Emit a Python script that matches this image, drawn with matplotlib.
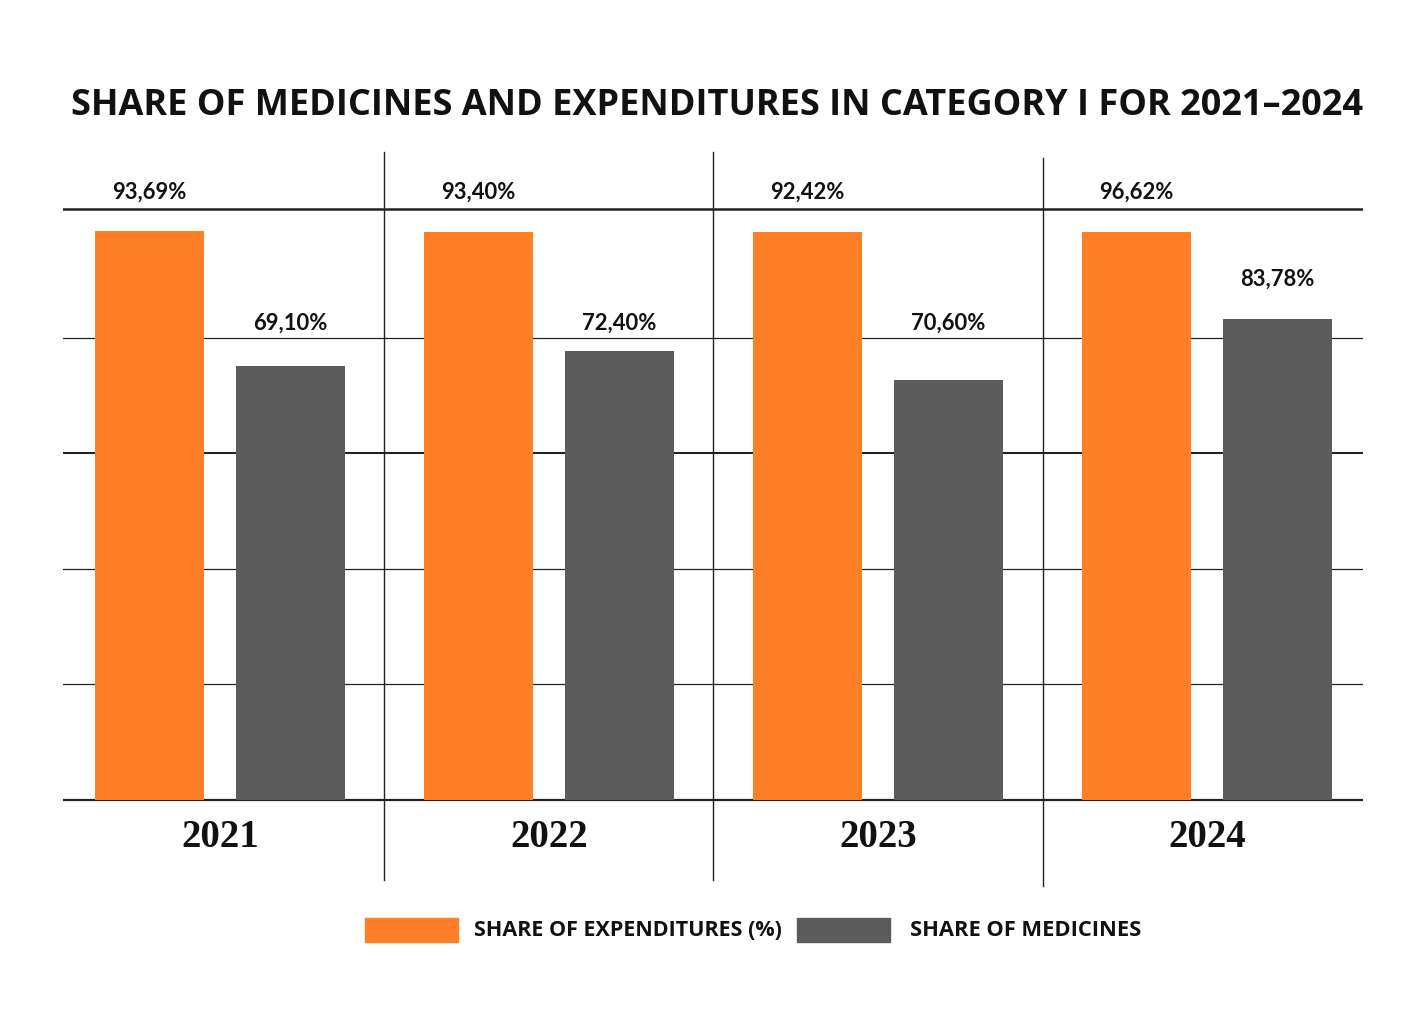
import matplotlib
matplotlib.use("Agg")
import matplotlib.pyplot as plt
from matplotlib.patches import Rectangle

# ---- data ----
years = ["2021", "2022", "2023", "2024"]
expend_labels = [93.69, 93.40, 92.42, 96.62]      # printed labels
medic_labels = [69.10, 72.40, 70.60, 83.78]       # printed labels
expend_heights = [98.5, 98.4, 98.4, 98.35]        # bar heights as drawn
medic_heights = [75.15, 77.75, 72.7, 83.3]        # bar heights as drawn
expend_label_y = [105.3, 105.3, 105.3, 105.3]
medic_label_y = [82.6, 82.6, 82.6, 90.2]
grid_values = [0, 20, 40, 60, 80, 102.3]
grid_widths = [1.6, 0.9, 0.9, 1.5, 0.9, 1.8]
series_names = ["SHARE OF EXPENDITURES (%)", "SHARE OF MEDICINES"]
title = "SHARE OF MEDICINES AND EXPENDITURES IN CATEGORY I FOR 2021–2024"

ORANGE = "#FF7F27"
GRAY = "#5C5C5C"
LINE = "#222222"

W, H = 1427, 1009
fig = plt.figure(figsize=(W / 100, H / 100), dpi=100)
fig.patch.set_facecolor("white")

ax = fig.add_axes([63 / W, (H - 886) / H, 1300 / W, 734 / H])
ax.set_xlim(-0.477, 3.474)
ax.set_ylim(-14.89, 112.2)
ax.axis("off")

off = 0.2143
bw = 109 / 329
xs = list(range(len(years)))

for g, lw in zip(grid_values, grid_widths):
    ax.axhline(g, color=LINE, lw=lw, zorder=1)

ax.bar([x - off for x in xs], expend_heights, width=bw, color=ORANGE, zorder=2)
ax.bar([x + off for x in xs], medic_heights, width=bw, color=GRAY, zorder=2)

# separators
for i in range(len(years) - 1):
    top = 112.2 if i < 2 else 111.2
    bot = -13.85 if i < 2 else -14.89
    ax.plot([i + 0.5, i + 0.5], [bot, top], color=LINE, lw=1.0, zorder=3, clip_on=False)

lab_font = ["Lato", "DejaVu Sans"]
for x, v, y in zip(xs, expend_labels, expend_label_y):
    ax.text(x - off, y, f"{v:.2f}".replace(".", ",") + "%", ha="center", va="center",
            fontsize=15.8, fontweight="bold", family=lab_font, color="#111111", zorder=4)
for x, v, y in zip(xs, medic_labels, medic_label_y):
    ax.text(x + off, y, f"{v:.2f}".replace(".", ",") + "%", ha="center", va="center",
            fontsize=15.8, fontweight="bold", family=lab_font, color="#111111", zorder=4)

for x, yr in zip(xs, years):
    ax.text(x, -6.5, yr, ha="center", va="center", fontsize=28, fontweight="bold",
            family=["Liberation Serif", "DejaVu Serif"], color="#111111")

narrow = ["Liberation Sans Narrow", "Open Sans", "DejaVu Sans"]

def fit(t, target_px):
    fig.canvas.draw()
    r = fig.canvas.get_renderer()
    w = t.get_window_extent(r).width
    t.set_fontsize(t.get_fontsize() * target_px / w)

tt = fig.text(717.5 / W, 1 - 106 / H, title, ha="center", va="center", fontsize=28,
              fontweight="bold", family=narrow, color="#111111")
fit(tt, 1289)

# legend
for x0, col in [(365, ORANGE), (797, GRAY)]:
    fig.patches.append(Rectangle((x0 / W, 1 - 942 / H), 93 / W, 24 / H,
                                 transform=fig.transFigure, color=col))
l1 = fig.text(474 / W, 1 - 931 / H, series_names[0], ha="left", va="center", fontsize=16,
              fontweight="bold", family=narrow, color="#111111")
l2 = fig.text(910 / W, 1 - 931 / H, series_names[1], ha="left", va="center", fontsize=16,
              fontweight="bold", family=narrow, color="#111111")
fit(l1, 308)
fit(l2, 231)

fig.savefig("out.png", dpi=100, facecolor="white")
